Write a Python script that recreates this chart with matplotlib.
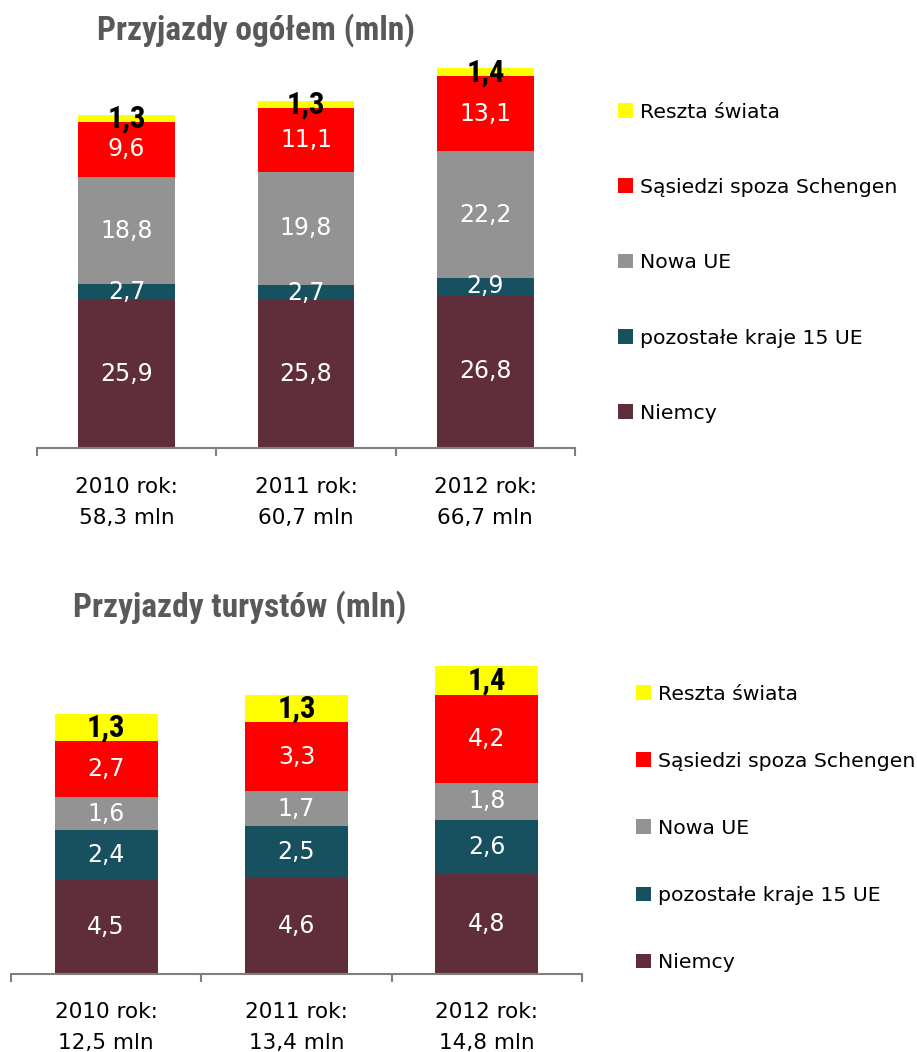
import numpy as np
import matplotlib
matplotlib.use('Agg')
from matplotlib import pyplot as plt

#data
years = ['2010', '2011', '2012']
segments = ['Niemcy', 'pozostałe kraje 15 UE', 'Nowa UE', 'Sąsiedzi spoza Schengen', 'Reszta świata']
segColors = ['#602E3A', '#17505E', '#939393', '#FF0000', '#FFFF00']

ogolemNiemcy = [25.9, 25.8, 26.8]
ogolemUE15 = [2.7, 2.7, 2.9]
ogolemNowaUE = [18.8, 19.8, 22.2]
ogolemSasiedzi = [9.6, 11.1, 13.1]
ogolemReszta = [1.3, 1.3, 1.4]
ogolemTotals = ['58,3', '60,7', '66,7']

turysciNiemcy = [4.5, 4.6, 4.8]
turysciUE15 = [2.4, 2.5, 2.6]
turysciNowaUE = [1.6, 1.7, 1.8]
turysciSasiedzi = [2.7, 3.3, 4.2]
turysciReszta = [1.3, 1.3, 1.4]
turysciTotals = ['12,5', '13,4', '14,8']

W, H = 917, 1052
narrow = ['Roboto Condensed', 'Liberation Sans Narrow', 'Roboto', 'DejaVu Sans']
plt.rcParams['font.family'] = ['DejaVu Sans']

fig = plt.figure(figsize=(W/100, H/100), dpi=100)

#pixel box -> figure fraction
def box(x0, x1, yBase, yTop):
	return [x0/W, 1 - yBase/H, (x1-x0)/W, (yBase-yTop)/H]

def drawStack(ax, series, totals, ymax, pad, legAnchor, legSpacing):
	x = np.arange(len(years))
	bottom = np.zeros(len(years))
	bars = []
	for i, vals in enumerate(series):
		b = ax.bar(x, vals, width=0.54, bottom=bottom, color=segColors[i], label=segments[i])
		bars.append(b)
		for j, v in enumerate(vals):
			txt = ('%.1f' % v).replace('.', ',')
			if i == len(series) - 1:
				ax.text(x[j], bottom[j] + v/2, txt, ha='center', va='center', color='black',
					fontsize=22, fontweight='bold', family=narrow)
			else:
				ax.text(x[j], bottom[j] + v/2, txt, ha='center', va='center', color='white', fontsize=17)
		bottom += np.array(vals)

	ax.set_xlim(-0.5, 2.5)
	ax.set_ylim(0, ymax)
	for s in ['top', 'right', 'left']:
		ax.spines[s].set_visible(False)
	ax.spines['bottom'].set_color('#7F7F7F')
	ax.spines['bottom'].set_linewidth(1.5)
	ax.set_yticks([])
	ax.set_xticks(x)
	ax.set_xticklabels(['%s rok:\n%s mln' % (years[k], totals[k]) for k in range(len(years))],
		fontsize=15.5, linespacing=1.7)
	ax.tick_params(axis='x', which='major', length=0, pad=pad)
	ax.set_xticks([-0.5, 0.5, 1.5, 2.5], minor=True)
	ax.tick_params(axis='x', which='minor', length=6, width=1.5, color='#7F7F7F', direction='out')

	handles = bars[::-1]
	ax.legend(handles, [h.get_label() for h in handles], loc='upper left',
		bbox_to_anchor=legAnchor, bbox_transform=fig.transFigure, frameon=False,
		fontsize=14.7, handlelength=0.73, handleheight=0.73, handletextpad=0.35,
		labelspacing=legSpacing, borderpad=0, borderaxespad=0)

#top chart - arrivals total
ax1 = fig.add_axes(box(37, 575, 448, 448 - 70*5.72))
drawStack(ax1, [ogolemNiemcy, ogolemUE15, ogolemNowaUE, ogolemSasiedzi, ogolemReszta],
	ogolemTotals, 70, 21, (618/W, 1 - 102.5/H), 2.76)

#bottom chart - tourist arrivals
ax2 = fig.add_axes(box(11, 582, 974, 974 - 16*20.8))
drawStack(ax2, [turysciNiemcy, turysciUE15, turysciNowaUE, turysciSasiedzi, turysciReszta],
	turysciTotals, 16, 20, (636/W, 1 - 684.5/H), 2.36)

fig.text(256/W, 1 - 30/H, 'Przyjazdy ogółem (mln)', ha='center', va='center',
	fontsize=24, fontweight='bold', color='#595959', family=narrow)
fig.text(240/W, 1 - 607/H, 'Przyjazdy turystów (mln)', ha='center', va='center',
	fontsize=24, fontweight='bold', color='#595959', family=narrow)

fig.savefig('out.png', dpi=100)
